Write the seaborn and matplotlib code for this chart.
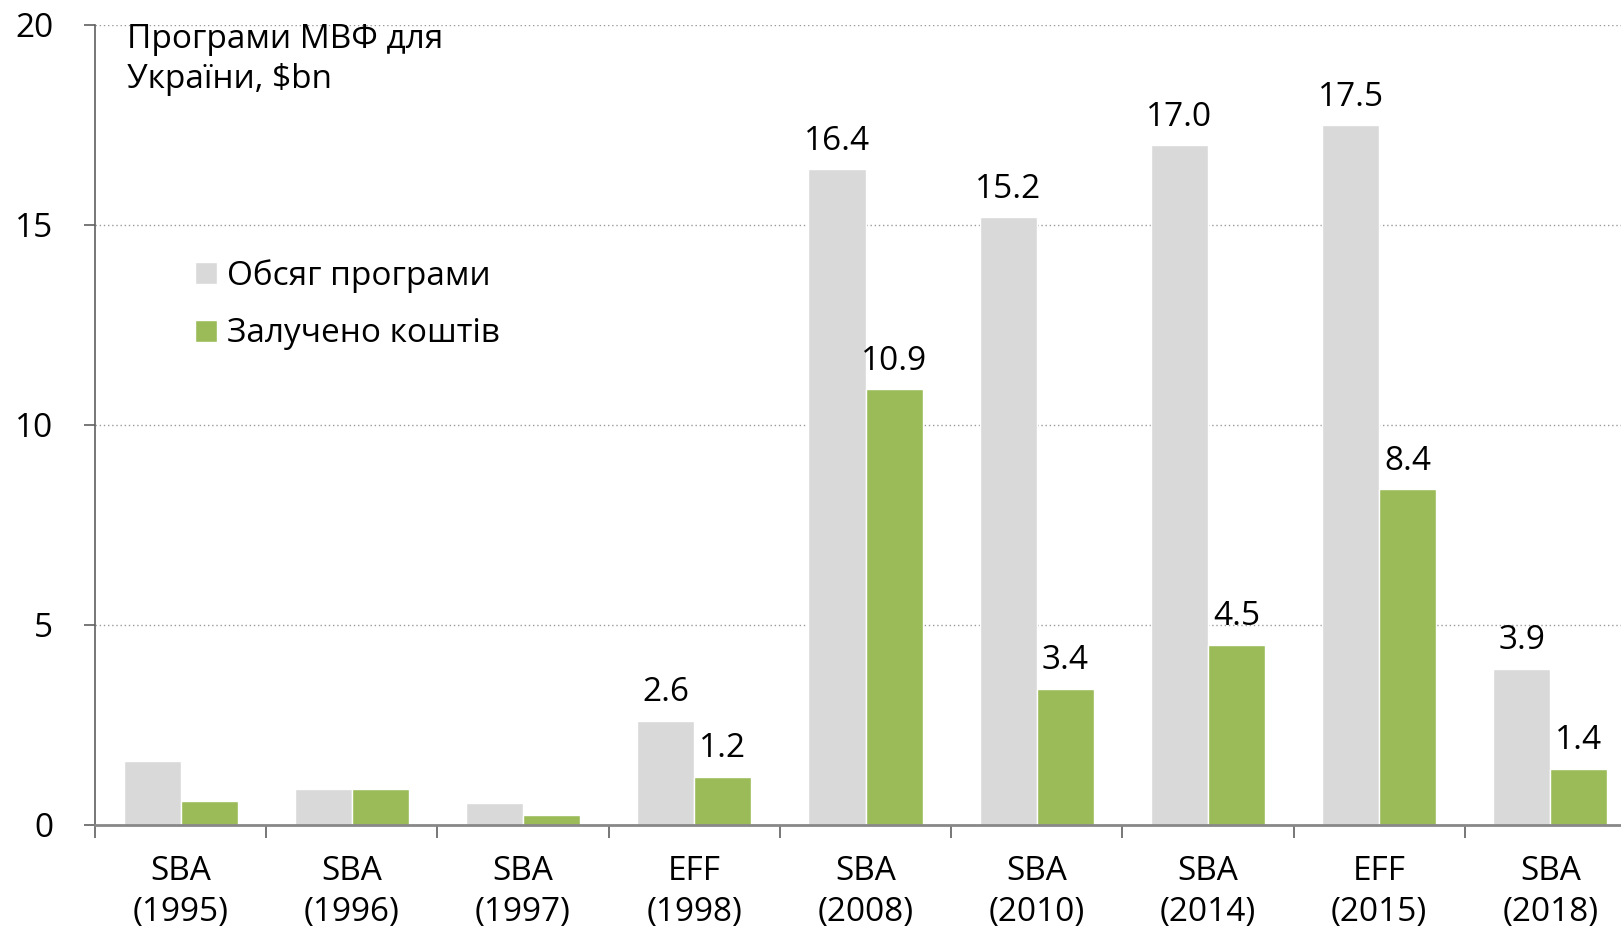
import matplotlib
matplotlib.use('Agg')
import matplotlib.pyplot as plt
import numpy as np
import pandas as pd
import seaborn as sns

# Програми МВФ для України, $bn
programs = ['SBA\n(1995)', 'SBA\n(1996)', 'SBA\n(1997)', 'EFF\n(1998)', 'SBA\n(2008)',
            'SBA\n(2010)', 'SBA\n(2014)', 'EFF\n(2015)', 'SBA\n(2018)']
total = [1.6, 0.9, 0.55, 2.6, 16.4, 15.2, 17.0, 17.5, 3.9]
drawn = [0.6, 0.9, 0.23, 1.2, 10.9, 3.4, 4.5, 8.4, 1.4]
series_names = ['Обсяг програми', 'Залучено коштів']
labelled_from = 3  # early programmes have no value labels

df = pd.DataFrame({
    'program': programs * 2,
    'value': total + drawn,
    'series': [series_names[0]] * len(programs) + [series_names[1]] * len(programs),
})

sns.set_theme(style='white')
plt.rcParams['font.family'] = ['Open Sans', 'DejaVu Sans']
plt.rcParams['text.color'] = 'black'

FS = 24
W, H = 1621, 930
fig = plt.figure(figsize=(W / 100, H / 100), dpi=100)
ax = fig.add_axes([95 / W, 105.5 / H, 1541 / W, 799.7 / H])

sns.barplot(data=df, x='program', y='value', hue='series',
            palette=['#D9D9D9', '#9BBB59'], saturation=1, width=0.667,
            errorbar=None, ax=ax)

ax.set_xlim(-0.5, len(programs) - 0.5)
ax.set_ylim(0, 20)
ax.set_yticks([0, 5, 10, 15, 20])
ax.set_xlabel('')
ax.set_ylabel('')

# grid
ax.yaxis.grid(True, linestyle=(0, (1, 2)), color='#9A9A9A', linewidth=1)
ax.xaxis.grid(False)
ax.set_axisbelow(True)

for side in ['top', 'right']:
    ax.spines[side].set_visible(False)
ax.spines['left'].set_color('#606060')
ax.spines['left'].set_linewidth(1.2)
ax.spines['bottom'].set_color('#888888')
ax.spines['bottom'].set_linewidth(2)

# ticks between groups
ax.set_xticks(np.arange(-0.5, len(programs), 1), minor=True)
ax.tick_params(axis='x', which='major', length=0, pad=22, labelsize=FS, labelcolor='black')
ax.tick_params(axis='x', which='minor', length=9, width=1.2, color='#606060', bottom=True)
ax.tick_params(axis='y', length=8, width=1.2, color='#606060', left=True, pad=22,
               labelsize=FS, labelcolor='black')
for lbl in ax.get_xticklabels():
    lbl.set_linespacing(1.3)

# value labels
for cont, vals in zip(ax.containers, [total, drawn]):
    labels = [f'{v:.1f}' if i >= labelled_from else '' for i, v in enumerate(vals)]
    ax.bar_label(cont, labels=labels, padding=8, fontsize=FS, color='black')

# legend
handles, labels = ax.get_legend_handles_labels()
ax.legend(handles, labels, loc='upper left', bbox_to_anchor=(195 / W, 1 - 259 / H),
          bbox_transform=fig.transFigure, frameon=False, fontsize=FS,
          handlelength=0.65, handleheight=0.65, handletextpad=0.3,
          labelspacing=0.74, borderpad=0, borderaxespad=0)

fig.text(127 / W, 1 - 23 / H, 'Програми МВФ для\nУкраїни, \\$bn', ha='left', va='top',
         fontsize=FS, linespacing=1.3)

fig.savefig('out.png', dpi=100)
plt.close(fig)
